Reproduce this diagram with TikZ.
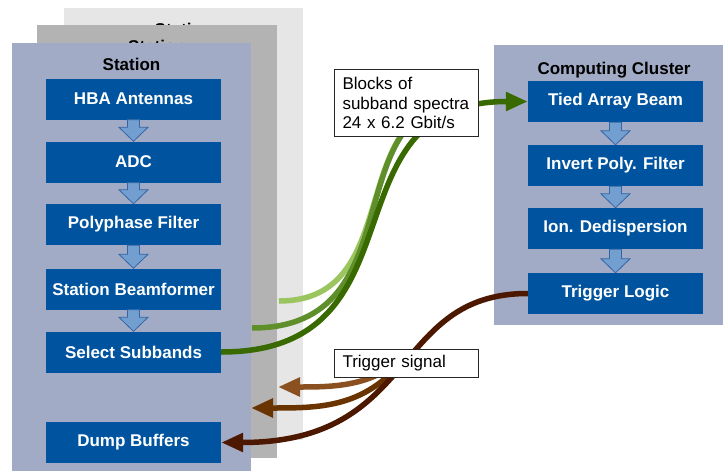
\documentclass[tikz,border=0pt]{standalone}
\usepackage{fontspec}
\setmainfont{Liberation Sans}
\usetikzlibrary{arrows.meta}

\definecolor{stationblue}{HTML}{A1ABC5}
\definecolor{boxblue}{HTML}{00549F}
\definecolor{backgray}{HTML}{E6E6E6}
\definecolor{midgray}{HTML}{B3B3B3}
\definecolor{flowfill}{HTML}{729FCF}
\definecolor{flowline}{HTML}{3465A4}
\definecolor{greenA}{HTML}{9BC55F}
\definecolor{greenB}{HTML}{5E8F2A}
\definecolor{greenC}{HTML}{386A00}
\definecolor{brownA}{HTML}{8B5020}
\definecolor{brownB}{HTML}{6A3400}
\definecolor{brownC}{HTML}{4D1800}

\tikzset{
    stage/.style={fill=boxblue, text=white, font=\bfseries\fontsize{17}{20}\selectfont,
        minimum width=175pt, minimum height=41pt, inner sep=0pt},
    stationtitle/.style={anchor=base, font=\bfseries\fontsize{17}{20}\selectfont},
    note/.style={draw=black!85, fill=white, line width=1pt, anchor=north west,
        font=\fontsize{17}{19.5}\selectfont, align=left, text width=128pt,
        inner xsep=8pt, inner ysep=0pt},
    datalink/.style={line width=5.5pt, -{Triangle[length=22pt, width=18pt]}},
}

% thick block arrow from one stage down to the next
\newcommand\flowarrow[2]{
    \filldraw [fill=flowfill, draw=flowline, line width=0.8pt]
        ([xshift=-6pt]#1.south) -- ([xshift=-6pt, yshift=14pt]#2.north)
        -- ([xshift=-14.5pt, yshift=14pt]#2.north) -- (#2.north)
        -- ([xshift=14.5pt, yshift=14pt]#2.north) -- ([xshift=6pt, yshift=14pt]#2.north)
        -- ([xshift=6pt]#1.south) -- cycle;
}

\begin{document}
\begin{tikzpicture}[x=1pt, y=-1pt]
    \useasboundingbox (0, 0) rectangle (723, 471);

    % stations, back to front
    \fill [backgray] (64, 8) rectangle (303, 440);
    \node [stationtitle] (backtitle) at (183.5, 35) {Station};
    \fill [midgray] (37, 25) rectangle (277, 458);
    \node [stationtitle] (midtitle) at (157, 52) {Station};
    \fill [stationblue] (12, 43) rectangle (251, 471);
    \node [stationtitle] (fronttitle) at (131.5, 70) {Station};

    \node [stage] (hba) at (133.5, 99) {HBA Antennas};
    \node [stage] (adc) at (133.5, 162) {ADC};
    \node [stage] (poly) at (133.5, 224.5) {Polyphase Filter};
    \node [stage] (beam) at (133.5, 289) {Station Beamformer};
    \node [stage] (select) at (133.5, 352) {Select Subbands};
    \node [stage] (dump) at (133.5, 442.5) {Dump Buffers};
    \flowarrow{hba}{adc}
    \flowarrow{adc}{poly}
    \flowarrow{poly}{beam}
    \flowarrow{beam}{select}

    % cluster
    \fill [stationblue] (494, 45) rectangle (723, 325);
    \node [stationtitle] (clustertitle) at (614, 74) {Computing Cluster};
    \node [stage] (tied) at (615.5, 101.5) {Tied Array Beam};
    \node [stage] (invert) at (615.5, 165.5) {Invert Poly. Filter};
    \node [stage] (ion) at (615.5, 228.5) {Ion. Dedispersion};
    \node [stage] (trig) at (615.5, 293.5) {Trigger Logic};
    \flowarrow{tied}{invert}
    \flowarrow{invert}{ion}
    \flowarrow{ion}{trig}

    % subband data going up
    \coordinate (backout) at (279, 301);
    \coordinate (midout) at (252, 328);
    \coordinate (lighthub) at (470, 100);
    \coordinate (midhub) at (472, 100);
    \draw [greenA, line width=5.5pt] (backout) .. controls (410, 301) and (340, 100) .. (lighthub);
    \draw [greenB, line width=5.5pt] (midout) .. controls (420, 328) and (330, 100) .. (midhub);
    \draw [greenC, datalink] (select.east) .. controls (430, 352) and (320, 101.5) .. (tied.west);

    % trigger going back
    \coordinate (backin) at (278, 387);
    \coordinate (midin) at (251, 408);
    \coordinate (lightsrc) at (400, 360);
    \coordinate (midsrc) at (405, 358);
    \draw [brownA, datalink] (lightsrc) .. controls (370, 387) and (330, 387) .. (backin);
    \draw [brownB, datalink] (midsrc) .. controls (365, 408) and (320, 408) .. (midin);
    \draw [brownC, datalink] (trig.west) .. controls (390, 293.5) and (420, 442.5) .. (dump.east);

    \node [note, minimum height=67pt] (blocks) at (334, 69)
        {Blocks of\\subband spectra\\24 x 6.2 Gbit/s};
    \node [note, minimum height=28pt] (trigsig) at (334, 349) {Trigger signal};
\end{tikzpicture}
\end{document}
